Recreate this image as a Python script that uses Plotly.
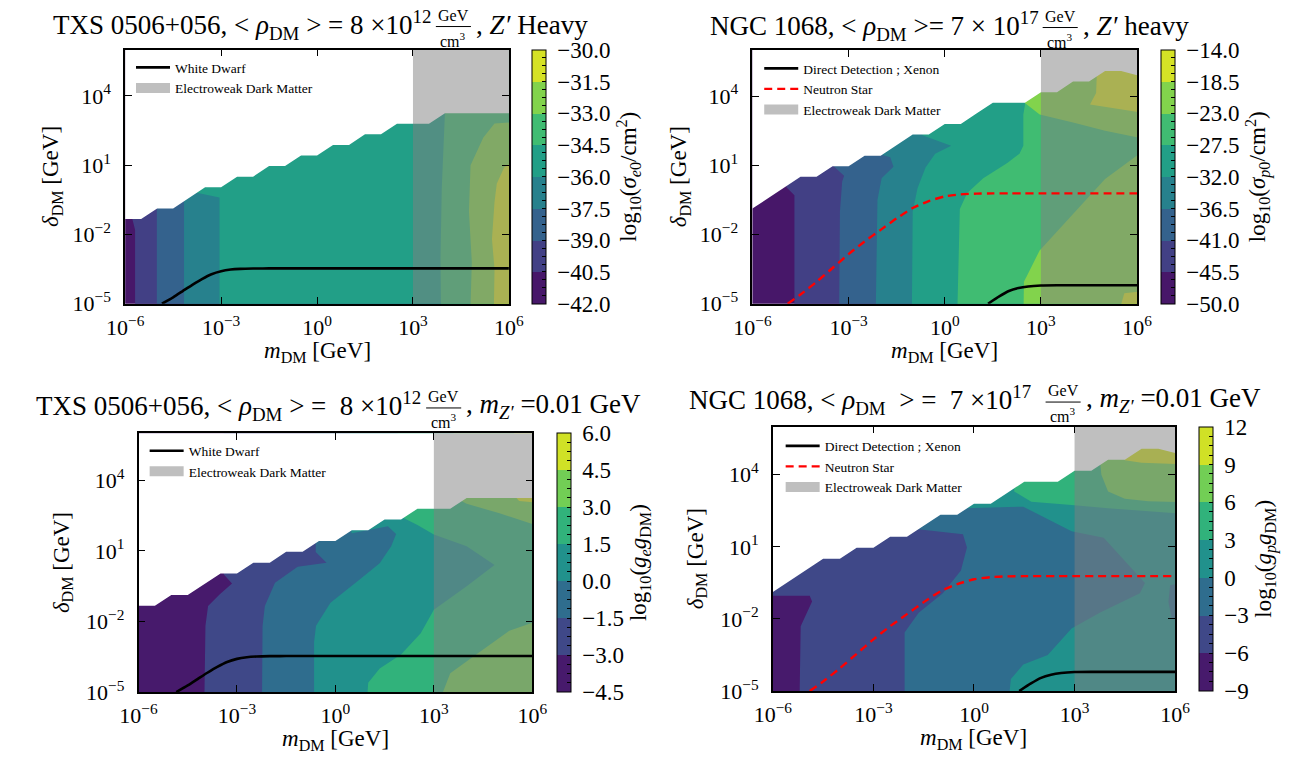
import plotly.graph_objects as go

W, H = 1307, 766
FONT = "Liberation Serif"

# ---------------- colour levels (colour-bar values) ----------------
lev_p1 = [-42.0, -40.5, -39.0, -37.5, -36.0, -34.5, -33.0, -31.5, -30.0]
lev_p2 = [-50.0, -45.5, -41.0, -36.5, -32.0, -27.5, -23.0, -18.5, -14.0]
lev_p3 = [-4.5, -3.0, -1.5, 0.0, 1.5, 3.0, 4.5, 6.0]
lev_p4 = [-9, -6, -3, 0, 3, 6, 9, 12]

VIR8 = ["#471769", "#424085", "#34628d", "#27818d", "#229f87", "#40bc72", "#82d34c", "#d5e226"]
VIR7 = ["#471a6c", "#3f4888", "#2f6d8e", "#21918c", "#31b27b", "#72ce55", "#d0e126"]

# ---------------- upper edge of the computed region (log10 m, log10 delta) ----------------
txs_top_m = [-6, -5.5, -5.0, -4.5, -3.5, -3.0, -2.5, -2.0, -1.5, -1.0, -0.5, 0.0, 0.5, 1.0, 1.5, 2.0, 2.5, 3.5, 4.0, 6.0]
txs_top_d = [-1.333, -1.333, -0.875, -0.875, 0.042, 0.042, 0.5, 0.5, 0.958, 0.958, 1.417, 1.417, 1.875, 1.875,
             2.333, 2.333, 2.792, 2.792, 3.25, 3.25]
ngc_top_m = [-6.0, -4.5, -4.0, -3.5, -3.0, -2.5, -2.0, -1.0, -0.5, 0.0, 0.5, 1.0, 1.5, 2.5, 3.0, 3.5, 4.0, 4.5,
             5.0, 5.5, 6.0]
ngc_top_d = [-0.875, 0.5, 0.5, 0.958, 0.958, 1.417, 1.417, 2.333, 2.333, 2.792, 2.792, 3.25, 3.708, 3.708,
             4.167, 4.167, 4.625, 4.625, 5.083, 5.083, 4.9]

# ---------------- contour band boundaries (log10 m, log10 delta) ----------------
# panel 1 : TXS, Z' heavy, sigma_e0
p1_b1_m = [-5.69, -5.69, -5.8];            p1_b1_d = [-6, -1.8, -1.2]
p1_b2_m = [-5.01, -5.01];                  p1_b2_d = [-6, -0.8]
p1_b3_m = [-4.16, -4.16];                  p1_b3_d = [-6, -0.4]
p1_b4_m = [-3.05, -3.05, -3.8];            p1_b4_d = [-6, -0.40, -0.18]
p1_b5_m = [3.88, 3.86, 3.9, 4.0];          p1_b5_d = [-6, -3.0, 0.0, 3.3]
p1_b6_m = [4.78, 4.84, 4.75, 4.8, 5.2, 5.55, 6.5, 6.5]
p1_b6_d = [-6, -3.2, -1.0, 1.0, 2.2, 2.8, 2.9, -6]
p1_b7_m = [5.52, 5.55, 5.47, 5.55, 5.62, 5.85, 6.5, 6.5]
p1_b7_d = [-6, -3.5, -2.2, -0.6, 0.2, 0.9, 1.5, -6]

# panel 2 : NGC, Z' heavy, sigma_p0
p2_b1_m = [-4.69, -4.69, -4.94];                       p2_b1_d = [-6, -0.3, 0.05]
p2_b2_m = [-3.30, -3.27, -3.2, -3.14, -3.45];          p2_b2_d = [-6, -1.0, 0.3, 0.55, 0.93]
p2_b3_m = [-2.16, -2.1, -1.97, -1.6, -1.7, -2.2];      p2_b3_d = [-6, -0.5, 0.44, 0.93, 1.35, 1.55]
p2_b4_m = [-1.03, -1.0, -0.85, -0.6, -0.3, 0.2, -0.7]; p2_b4_d = [-6, -1.0, 0.0, 0.9, 1.5, 1.85, 2.3]
p2_b5_m = [0.38, 0.45, 0.47, 0.7, 1.2, 1.95, 2.33, 2.45, 2.45, 2.5]
p2_b5_d = [-6, -2.0, -0.9, -0.2, 0.44, 1.1, 1.5, 1.85, 3.2, 3.6]
p2_b6a_m = [2.45, 2.47, 2.96, 4.0, 5.0, 6.5, 6.5];     p2_b6a_d = [-6, -4.05, -2.69, -1.11, 0.41, 1.93, -6]
p2_b6b_m = [2.5, 2.96, 4.0, 5.0, 6.5, 6.5, 2.5];       p2_b6b_d = [3.7, 3.2, 2.85, 2.5, 2.07, 8, 8]
p2_b7a_m = [4.75, 4.72, 4.53, 6.5, 6.5, 4.75];         p2_b7a_d = [5.2, 4.13, 3.63, 3.2, 8, 8]
p2_b7b_m = [5.3, 5.6, 6.5, 6.5];                       p2_b7b_d = [-6, -4.55, -4.4, -6]

# panel 3 : TXS, m_Z' = 0.01 GeV, g_e g_DM
p3_b1_m = [-4.0, -3.96, -3.88, -3.53, -3.15, -3.4];    p3_b1_d = [-6, -2.18, -1.34, -0.85, -0.39, 0.0]
p3_b2_m = [-2.24, -2.22, -2.15, -1.84, -1.15, -0.27, -0.6]
p3_b2_d = [-6, -2.2, -1.34, -0.36, 0.33, 0.5, 0.95]
p3_b3_m = [-0.65, -0.65, -0.59, -0.15, 0.73, 1.35, 1.7, 1.85, 1.6, 0.5, 0.45]
p3_b3_d = [-6, -2.87, -2.18, -1.2, -0.23, 0.47, 1.2, 1.72, 2.05, 1.75, 2.0]
p3_b4_m = [0.93, 1.0, 1.35, 2.0, 2.6, 3.0, 4.0, 4.85, 4.0, 3.0, 2.5, 2.0, 1.9]
p3_b4_d = [-6, -4.6, -4.0, -3.4, -2.5, -1.5, -0.5, 0.4, 1.2, 1.7, 2.1, 2.45, 3.5]
p3_b5a_m = [3.0, 3.5, 4.1, 4.7, 5.3, 6.5, 6.5];        p3_b5a_d = [-6, -4.2, -3.6, -3.0, -2.4, -1.8, -6]
p3_b5b_m = [3.6, 4.0, 5.0, 6.0, 6.5, 6.5, 3.6];        p3_b5b_d = [3.3, 3.0, 2.6, 2.14, 2.0, 8, 8]
p3_b6_m = [5.45, 5.6, 6.5, 6.5, 5.45];                 p3_b6_d = [3.35, 3.12, 3.0, 8, 8]

# panel 4 : NGC, m_Z' = 0.01 GeV, g_p g_DM   (base colour = band 1)
p4_b0_m = [-7, -5.2, -5.2, -5.17, -4.83, -4.9, -7]
p4_b0_d = [-6, -6, -5.0, -2.3, -1.27, -1.04, -1.04]
p4_b2_m = [-2.07, -2.07, -1.65, -0.93, -0.39, -0.21, -0.33, -1.17, -2.13, -2.4]
p4_b2_d = [-6, -2.56, -1.74, -0.93, 0.02, 0.97, 1.52, 1.65, 1.79, 1.85]
p4_b3a_m = [0.99, 1.1, 1.47, 2.2, 2.91, 3.75, 4.95, 5.1, 6.5, 6.5]
p4_b3a_d = [-6, -4.5, -3.9, -3.5, -2.4, -1.74, -0.93, -0.5, -0.3, -6]
p4_b3b_m = [-0.33, 0.0, 1.47, 2.91, 3.87, 4.95, 5.1, 6.5, 6.5, -0.33]
p4_b3b_d = [2.6, 2.62, 2.67, 1.65, 1.38, -0.25, -0.5, -0.5, 8, 8]
p4_b2b_m = [6.5, 5.85, 5.8, 5.9, 6.5];                 p4_b2b_d = [-0.4, -0.6, -1.3, -2.0, -2.1]
p4_b4_m = [1.2, 1.71, 2.91, 4.0, 6.5, 6.5, 1.2];       p4_b4_d = [3.3, 2.87, 2.74, 2.6, 2.35, 8, 8]
p4_b5_m = [3.75, 3.8, 4.0, 4.5, 5.2, 6.5, 6.5, 3.75];  p4_b5_d = [4.7, 4.0, 3.3, 3.0, 2.9, 2.85, 8, 8]
p4_b6_m = [4.4, 4.5, 5.0, 6.5, 6.5, 4.4];              p4_b6_d = [5.2, 4.6, 4.5, 4.42, 8, 8]

# ---------------- constraint curves (log10 m, log10 delta) ----------------
wd_m = [-4.85, -4.5, -4.2, -3.9, -3.6, -3.3, -3.0, -2.7, -2.4, -2.0, -1.5, 6.0]
wd_d = [-5.0, -4.72, -4.45, -4.18, -3.93, -3.72, -3.59, -3.52, -3.49, -3.475, -3.47, -3.47]
ns_m = [-4.9, -4.5, -4.0, -3.5, -3.0, -2.5, -2.0, -1.5, -1.0, -0.5, 0.0, 0.5, 1.0, 1.5, 6.0]
ns_d = [-5.0, -4.6, -4.05, -3.45, -2.85, -2.3, -1.8, -1.3, -0.85, -0.55, -0.35, -0.26, -0.23, -0.22, -0.22]
dd_m = [1.35, 1.7, 2.0, 2.3, 2.6, 3.0, 3.5, 6.0]
dd_d = [-5.0, -4.68, -4.45, -4.32, -4.25, -4.21, -4.2, -4.2]
ew_min_m = 3.0   # electroweak dark matter: m_DM >= 1 TeV

x_tickv = [-6, -3, 0, 3, 6]
y_tickv = [-5, -2, 1, 4]

# ---------------- panel geometry (pixels) ----------------
PANELS = [
    dict(x=(109, 503), y=(50.5, 309), cb=527, lev=lev_p1, cols=VIR8, minor=4, fmt="{:.1f}",
         cbtitle="log<sub>10</sub>(<i>σ</i><sub><i>e</i>0</sub>/cm<sup>2</sup>)"),
    dict(x=(753, 1148), y=(50.7, 309), cb=1172, lev=lev_p2, cols=VIR8, minor=4, fmt="{:.1f}",
         cbtitle="log<sub>10</sub>(<i>σ</i><sub><i>p</i>0</sub>/cm<sup>2</sup>)"),
    dict(x=(122.7, 527), y=(440.7, 704), cb=552, lev=lev_p3, cols=VIR7, minor=4, fmt="{:.1f}",
         cbtitle="log<sub>10</sub>(<i>g</i><sub><i>e</i></sub><i>g</i><sub>DM</sub>)"),
    dict(x=(774, 1187), y=(434, 703), cb=1212, lev=lev_p4, cols=VIR7, minor=4, fmt="{:d}",
         cbtitle="log<sub>10</sub>(<i>g</i><sub><i>p</i></sub><i>g</i><sub>DM</sub>)"),
]

REGIONS = [
    [(0, "base", None, None), ("right", 1, p1_b1_m, p1_b1_d), ("right", 2, p1_b2_m, p1_b2_d),
     ("right", 3, p1_b3_m, p1_b3_d), ("right", 4, p1_b4_m, p1_b4_d), ("right", 5, p1_b5_m, p1_b5_d),
     ("poly", 6, p1_b6_m, p1_b6_d), ("poly", 7, p1_b7_m, p1_b7_d)],
    [(0, "base", None, None), ("right", 1, p2_b1_m, p2_b1_d), ("right", 2, p2_b2_m, p2_b2_d),
     ("right", 3, p2_b3_m, p2_b3_d), ("right", 4, p2_b4_m, p2_b4_d), ("right", 5, p2_b5_m, p2_b5_d),
     ("poly", 6, p2_b6a_m, p2_b6a_d), ("poly", 6, p2_b6b_m, p2_b6b_d),
     ("poly", 7, p2_b7a_m, p2_b7a_d), ("poly", 7, p2_b7b_m, p2_b7b_d)],
    [(0, "base", None, None), ("right", 1, p3_b1_m, p3_b1_d), ("right", 2, p3_b2_m, p3_b2_d),
     ("right", 3, p3_b3_m, p3_b3_d), ("right", 4, p3_b4_m, p3_b4_d),
     ("poly", 5, p3_b5a_m, p3_b5a_d), ("poly", 5, p3_b5b_m, p3_b5b_d), ("poly", 6, p3_b6_m, p3_b6_d)],
    [(1, "base", None, None), ("poly", 0, p4_b0_m, p4_b0_d), ("right", 2, p4_b2_m, p4_b2_d),
     ("poly", 3, p4_b3a_m, p4_b3a_d), ("poly", 3, p4_b3b_m, p4_b3b_d), ("poly", 2, p4_b2b_m, p4_b2b_d),
     ("poly", 4, p4_b4_m, p4_b4_d), ("poly", 5, p4_b5_m, p4_b5_d), ("poly", 6, p4_b6_m, p4_b6_d)],
]
TOPS = [(txs_top_m, txs_top_d), (ngc_top_m, ngc_top_d), (txs_top_m, txs_top_d), (ngc_top_m, ngc_top_d)]

fig = go.Figure()


def pw(v):
    return [10.0 ** a for a in v]


def add_fill(i, ms, ds, color):
    ax = "" if i == 0 else str(i + 1)
    fig.add_trace(go.Scatter(
        x=pw(ms), y=pw(ds), xaxis="x" + ax, yaxis="y" + ax, mode="lines",
        fill="toself", fillcolor=color, line=dict(width=0, color=color),
        hoverinfo="skip", showlegend=False))


for i, P in enumerate(PANELS):
    ax = "" if i == 0 else str(i + 1)
    lg = "legend" if i == 0 else "legend" + str(i + 1)
    cols = P["cols"]
    for reg in REGIONS[i]:
        if reg[1] == "base":
            add_fill(i, [-7, 7, 7, -7], [-6, -6, 8, 8], cols[reg[0]])
            continue
        kind, k, ms, ds = reg
        if kind == "right":
            ms = ms + [ms[-1], 7.5, 7.5]
            ds = ds + [8.0, 8.0, ds[0]]
        add_fill(i, ms, ds, cols[k])
    tm, td = TOPS[i]
    add_fill(i, [-7] + tm + [7, 7, -7], [td[0]] + td + [td[-1], 8, 8], "white")
    # electroweak dark matter (translucent grey) + its legend patch
    add_fill(i, [ew_min_m, 7, 7, ew_min_m], [-6, -6, 8, 8], "rgba(128,128,128,0.5)")
    fig.add_trace(go.Scatter(x=[None], y=[None], xaxis="x" + ax, yaxis="y" + ax, mode="lines",
                             line=dict(color="#bfbfbf", width=12), name="Electroweak Dark Matter",
                             legend=lg, legendrank=3, hoverinfo="skip"))
    if i in (0, 2):
        fig.add_trace(go.Scatter(x=pw(wd_m), y=pw(wd_d), xaxis="x" + ax, yaxis="y" + ax, mode="lines",
                                 line=dict(color="black", width=2.6, shape="spline", smoothing=0.6),
                                 name="White Dwarf", legend=lg, legendrank=1, hoverinfo="skip"))
    else:
        fig.add_trace(go.Scatter(x=pw(dd_m), y=pw(dd_d), xaxis="x" + ax, yaxis="y" + ax, mode="lines",
                                 line=dict(color="black", width=2.6, shape="spline", smoothing=0.6),
                                 name="Direct Detection ; Xenon", legend=lg, legendrank=1, hoverinfo="skip"))
        fig.add_trace(go.Scatter(x=pw(ns_m), y=pw(ns_d), xaxis="x" + ax, yaxis="y" + ax, mode="lines",
                                 line=dict(color="red", width=2.4, dash="8px,5px", shape="spline", smoothing=0.6),
                                 name="Neutron Star", legend=lg, legendrank=2, hoverinfo="skip"))

    lev = P["lev"]
    n = len(lev) - 1
    cs = []
    for k in range(n):
        cs.append([k / n, cols[k]])
        cs.append([(k + 1) / n, cols[k]])
    step = (lev[1] - lev[0]) / P["minor"]
    tv, tt = [], []
    for j in range(n * P["minor"] + 1):
        tv.append(lev[0] + j * step)
        if j % P["minor"] == 0:
            s = P["fmt"].format(lev[j // P["minor"]])
            tt.append("&nbsp;" + s.replace("-", "−"))
        else:
            tt.append("")
    y0, y1 = P["y"]
    fig.add_trace(go.Scatter(
        x=[1e-12, 1e-12], y=[1e-12, 1e-12], xaxis="x" + ax, yaxis="y" + ax, mode="markers",
        showlegend=False, hoverinfo="skip",
        marker=dict(size=1, color=[lev[0], lev[-1]], cmin=lev[0], cmax=lev[-1], colorscale=cs, showscale=True,
                    colorbar=dict(x=P["cb"] / W, xanchor="left", xpad=0, ypad=0,
                                  y=1 - (y0 + y1) / 2 / H, yanchor="middle", len=(y1 - y0) / H,
                                  thickness=14, outlinewidth=1, outlinecolor="black",
                                  tickmode="array", tickvals=tv, ticktext=tt, ticks="inside", ticklen=4,
                                  tickcolor="black", tickfont=dict(family=FONT, size=23, color="black"),
                                  title=dict(text=P["cbtitle"], side="right",
                                             font=dict(family=FONT, size=23, color="black"))))))

    x0, x1 = P["x"]
    axis_common = dict(ticks="inside", ticklen=7, tickwidth=1.2, tickcolor="black", showline=True,
                       linecolor="black", linewidth=1.5, mirror="ticks", showgrid=False, zeroline=False,
                       tickfont=dict(family=FONT, size=22, color="black"), tickmode="array")
    fig.layout["xaxis" + ax] = dict(domain=[x0 / W, x1 / W], type="log", range=[-6, 6], anchor="y" + ax,
                                    tickvals=[10.0 ** v for v in x_tickv], ticklabelstandoff=3,
                                    ticktext=["10<sup>%s</sup>" % str(v).replace("-", "−") for v in x_tickv],
                                    **axis_common)
    fig.layout["yaxis" + ax] = dict(domain=[1 - y1 / H, 1 - y0 / H], type="log", range=[-5, 6], anchor="x" + ax,
                                    tickvals=[10.0 ** v for v in y_tickv], ticklabelstandoff=8,
                                    ticktext=["10<sup>%s</sup>" % str(v).replace("-", "−") for v in y_tickv],
                                    **axis_common)

# ---------------- legends ----------------
leg_common = dict(bgcolor="rgba(0,0,0,0)", borderwidth=0, font=dict(family=FONT, size=13.5, color="black"),
                  xanchor="left", yanchor="top", traceorder="normal", itemwidth=34)
fig.update_layout(
    legend=dict(x=115 / W, y=1 - 53 / H, **leg_common),
    legend2=dict(x=760 / W, y=1 - 54 / H, **leg_common),
    legend3=dict(x=129 / W, y=1 - 443 / H, **leg_common),
    legend4=dict(x=782 / W, y=1 - 438 / H, **leg_common),
)

# ---------------- titles and axis labels ----------------
ann = []
shapes = []


def txt(x, y, s, size, xanchor="center", angle=0, yanchor="middle"):
    ann.append(dict(x=x / W, y=1 - y / H, xref="paper", yref="paper", text=s, showarrow=False,
                    xanchor=xanchor, yanchor=yanchor, textangle=angle,
                    font=dict(family=FONT, size=size, color="black")))


NB = "&nbsp;"
TITLES = [
    # left text, right text, fraction centre x, centre y
    ("TXS 0506+056, &lt; <i>ρ</i><sub>DM</sub> &gt; = 8 ×10<sup>12</sup>", ", <i>Z′</i> Heavy", 446, 25),
    ("NGC 1068, &lt; <i>ρ</i><sub>DM</sub> &gt;= 7 × 10<sup>17</sup>", ", <i>Z′</i> heavy", 1069, 26),
    ("TXS 0506+056, &lt; <i>ρ</i><sub>DM</sub> &gt; =" + NB + " 8 ×10<sup>12</sup>",
     ", <i>m</i><sub><i>Z′</i></sub> =0.01 GeV", 436, 413),
    ("NGC 1068, &lt; <i>ρ</i><sub>DM</sub>" + NB + " &gt; =" + NB + " 7 ×10<sup>17</sup>",
     ", <i>m</i><sub><i>Z′</i></sub> =0.01 GeV", 1072, 407),
]
GAPS = [21, 20, 21, 31]
for (left, right, fx, fy), g in zip(TITLES, GAPS):
    txt(fx - g, fy, left, 27, "right")
    txt(fx + 21, fy, right, 27, "left")
    txt(fx, fy + 1, "GeV", 16, yanchor="bottom")
    txt(fx, fy + 3, "cm<sup>3</sup>", 16, yanchor="top")
    shapes.append(dict(type="line", xref="paper", yref="paper", x0=(fx - 18) / W, x1=(fx + 18) / W,
                       y0=1 - (fy + 2) / H, y1=1 - (fy + 2) / H, line=dict(color="black", width=1)))

XLAB = "<i>m</i><sub>DM</sub> [GeV]"
YLAB = "<i>δ</i><sub>DM</sub> [GeV]"
txt(306, 358, XLAB, 23)
txt(950, 358, XLAB, 23)
txt(325, 753, XLAB, 23)
txt(980, 752, XLAB, 23)
txt(34, 180, YLAB, 23, angle=-90)
txt(679, 180, YLAB, 23, angle=-90)
txt(45, 572, YLAB, 23, angle=-90)
txt(696, 568, YLAB, 23, angle=-90)

fig.update_layout(width=W, height=H, margin=dict(l=0, r=0, t=0, b=0), paper_bgcolor="white",
                  plot_bgcolor="white", annotations=ann, shapes=shapes, showlegend=True,
                  font=dict(family=FONT, color="black"))
fig.write_html("out.html")
